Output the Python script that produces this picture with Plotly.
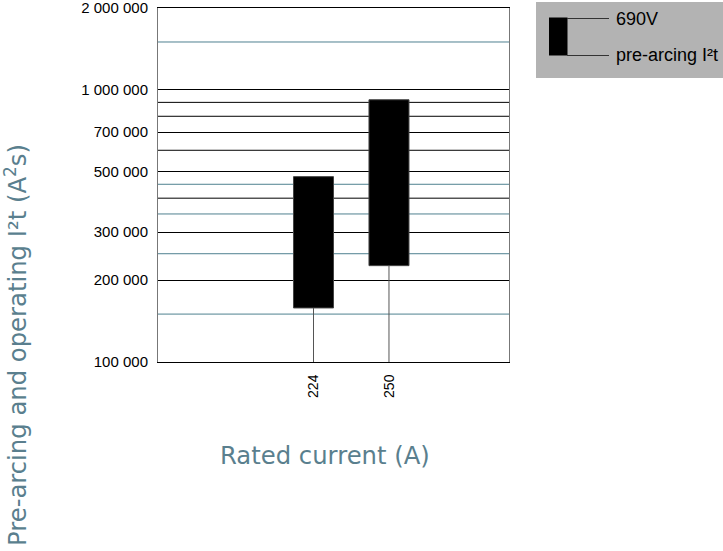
import plotly.graph_objects as go

# ---- data ----
categories = ["224", "250"]
cat_pos = [0, 1]
low_values = [158000, 226000]    # pre-arcing I2t (bar bottom)
high_values = [480000, 920000]   # operating I2t (bar top)
axis_floor = 100000

y_tick_vals = [100000, 200000, 300000, 500000, 700000, 1000000, 2000000]
y_tick_text = ["100 000", "200 000", "300 000", "500 000", "700 000", "1 000 000", "2 000 000"]
black_extra_lines = [400000, 600000, 800000, 900000]
teal_lines = [150000, 250000, 350000, 450000, 1500000]

# ---- layout geometry ----
W, H = 723, 551
L, R, T, B = 158, 509, 8, 362
pw, ph = R - L, B - T

def px(x):
    return (x - L) / pw

def py(y):
    return (B - y) / ph

TEAL = "#4f8190"
TITLE = "#5a7f8e"

fig = go.Figure()

# whiskers down to axis floor
for c, lo in zip(cat_pos, low_values):
    fig.add_trace(go.Scatter(x=[c, c], y=[axis_floor, lo], mode="lines",
                             line=dict(color="#555555", width=1),
                             hoverinfo="skip", showlegend=False))

fig.add_trace(go.Bar(
    x=cat_pos,
    y=[h - l for h, l in zip(high_values, low_values)],
    base=low_values,
    width=0.53,
    marker=dict(color="black", line=dict(color="#444444", width=1)),
    showlegend=False,
))

shapes = []
for v in teal_lines:
    shapes.append(dict(type="line", xref="paper", yref="y", x0=0, x1=1, y0=v, y1=v,
                       line=dict(color=TEAL, width=1), layer="below"))
for v in black_extra_lines:
    shapes.append(dict(type="line", xref="paper", yref="y", x0=0, x1=1, y0=v, y1=v,
                       line=dict(color="black", width=1), layer="below"))

# legend box
shapes.append(dict(type="rect", xref="paper", yref="paper", x0=px(536), x1=px(730), y0=py(2), y1=py(78),
                   fillcolor="#b3b3b3", line=dict(width=0)))
shapes.append(dict(type="rect", xref="paper", yref="paper", x0=px(549), x1=px(567.5), y0=py(17.5), y1=py(55.5),
                   fillcolor="black", line=dict(width=0)))
shapes.append(dict(type="line", xref="paper", yref="paper", x0=px(567), x1=px(609), y0=py(18.5), y1=py(18.5),
                   line=dict(color="#333333", width=1)))
shapes.append(dict(type="line", xref="paper", yref="paper", x0=px(567), x1=px(609), y0=py(55.5), y1=py(55.5),
                   line=dict(color="#333333", width=1)))

annotations = [
    dict(text="690V", xref="paper", yref="paper", x=px(614), y=py(19), xanchor="left", yanchor="middle",
         showarrow=False, font=dict(family="Liberation Sans, Arial", size=18, color="black")),
    dict(text="pre-arcing I²t", xref="paper", yref="paper", x=px(614), y=py(55), xanchor="left", yanchor="middle",
         showarrow=False, font=dict(family="Liberation Sans, Arial", size=18, color="black")),
    dict(text="Pre-arcing and operating I²t (A<sup>2</sup>s)", xref="paper", yref="paper",
         x=px(16), y=py(345), xanchor="center", yanchor="middle", textangle=-90,
         showarrow=False, font=dict(family="DejaVu Sans", size=24.3, color=TITLE)),
    dict(text="Rated current (A)", xref="paper", yref="paper",
         x=px(325), y=py(455), xanchor="center", yanchor="middle",
         showarrow=False, font=dict(family="DejaVu Sans", size=24.3, color=TITLE)),
]

fig.update_layout(
    width=W, height=H,
    margin=dict(l=L, r=W - R, t=T, b=H - B, pad=0, autoexpand=False),
    paper_bgcolor="white", plot_bgcolor="white",
    shapes=shapes, annotations=annotations,
    showlegend=False,
    xaxis=dict(
        range=[-2.06, 2.59], tickmode="array", tickvals=cat_pos, ticktext=categories,
        tickangle=-90, showgrid=False, zeroline=False, automargin=False,
        showline=True, mirror=True, linecolor="black", linewidth=1,
        ticks="outside", ticklen=6, tickcolor="rgba(0,0,0,0)",
        tickfont=dict(family="Liberation Sans, Arial", size=14, color="black"),
    ),
    yaxis=dict(
        type="log", range=[5, 6.30103], tickmode="array", tickvals=y_tick_vals, ticktext=y_tick_text,
        showgrid=True, gridcolor="black", gridwidth=1, zeroline=False, automargin=False,
        showline=True, mirror=True, linecolor="#777777", linewidth=1,
        ticks="outside", ticklen=6, tickcolor="rgba(0,0,0,0)", ticklabeloverflow="allow",
        tickfont=dict(family="Liberation Sans, Arial", size=15, color="black"),
    ),
)

fig.write_html("out.html", config={"displayModeBar": False},
               post_script="document.body.style.margin='0';")
